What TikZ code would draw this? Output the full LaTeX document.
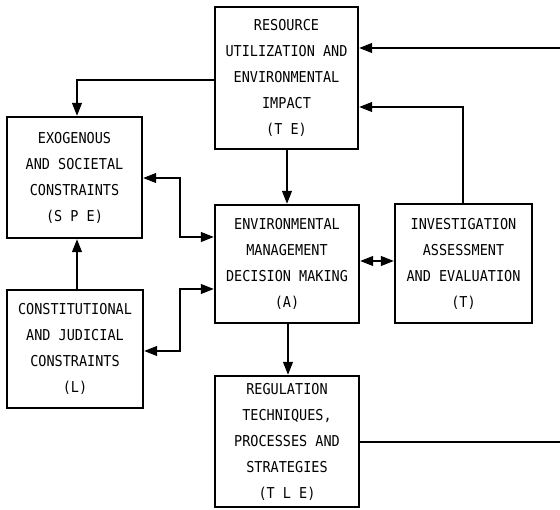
\documentclass[tikz,border=0pt]{standalone}
\usepackage{fontspec}
\newfontfamily\boxfont[FakeStretch=0.9]{DejaVu Sans Mono}
\usetikzlibrary{arrows.meta}

\tikzset{
  block/.style={draw=black, line width=2.4pt, fill=white, inner sep=0pt,
    align=center, font=\boxfont\fontsize{15}{26}\selectfont},
  conn/.style={draw=black, line width=1.2pt},
  tip/.tip={Triangle[length=13pt,width=10pt]},
  arr/.style={conn, -tip},
  darr/.style={conn, tip-tip}
}

\begin{document}
\begin{tikzpicture}[x=1pt,y=-1pt]
  \useasboundingbox (0,0) rectangle (560,510);

  % boxes
  \node[block, minimum width=143pt, minimum height=142pt] (RU) at (286.5,78)
    {RESOURCE\\UTILIZATION AND\\ENVIRONMENTAL\\IMPACT\\(T E)};
  \node[block, minimum width=135pt, minimum height=121pt] (SPE) at (74.5,177.5)
    {EXOGENOUS\\AND SOCIETAL\\CONSTRAINTS\\(S P E)};
  \node[block, minimum width=144pt, minimum height=118pt] (A) at (287,264)
    {ENVIRONMENTAL\\MANAGEMENT\\DECISION MAKING\\(A)};
  \node[block, minimum width=137pt, minimum height=119pt] (T) at (463.5,263.5)
    {INVESTIGATION\\ASSESSMENT\\AND EVALUATION\\(T)};
  \node[block, minimum width=136pt, minimum height=118pt] (L) at (75,349)
    {CONSTITUTIONAL\\AND JUDICIAL\\CONSTRAINTS\\(L)};
  \node[block, minimum width=144pt, minimum height=131pt] (TLE) at (287,441.5)
    {REGULATION\\TECHNIQUES,\\PROCESSES AND\\STRATEGIES\\(T L E)};

  % free ends at the right margin
  \coordinate (feedin) at (560,48);
  \coordinate (feedout) at (560,442);

  % connectors
  \draw[arr] (RU.west |- 0,80) -| (SPE.north -| 77,0);
  \draw[arr] (RU.south -| 287,0) -- (A.north -| 287,0);
  \draw[darr] (SPE.east |- 0,178) -- (180,178) -- (180,237) -- (A.west |- 0,237);
  \draw[arr] (L.north -| 77,0) -- (SPE.south -| 77,0);
  \draw[darr] (L.east |- 0,351) -- (180,351) -- (180,289) -- (A.west |- 0,289);
  \draw[darr] (A.east |- 0,261) -- (T.west |- 0,261);
  \draw[arr] (T.north -| 463,0) |- (RU.east |- 0,107);
  \draw[arr] (feedin) -- (RU.east |- feedin);
  \draw[arr] (A.south -| 288,0) -- (TLE.north -| 288,0);
  \draw[conn] (TLE.east |- feedout) -- (feedout);
\end{tikzpicture}
\end{document}
